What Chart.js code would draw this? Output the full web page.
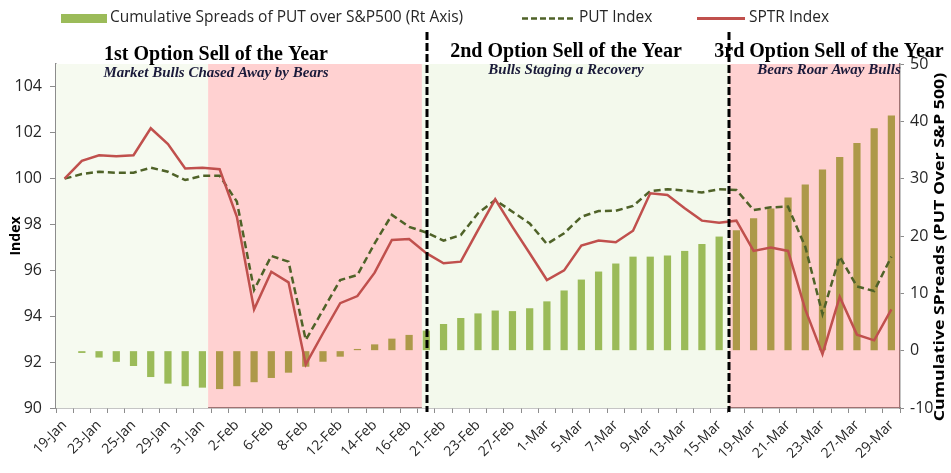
<!DOCTYPE html>
<html>
<head>
<meta charset="utf-8">
<script src="https://cdn.jsdelivr.net/npm/chart.js@4.4.1/dist/chart.umd.min.js"></script>
<style>
  html, body { margin: 0; padding: 0; background: #fff; }
  #contenedor { width: 951px; height: 473px; }
</style>
</head>
<body>
<div id="contenedor"><canvas id="grafica"></canvas></div>
<script>
// Datos
const fechas = ['19-Jan','22-Jan','23-Jan','24-Jan','25-Jan','26-Jan','29-Jan','30-Jan','31-Jan','1-Feb',
  '2-Feb','5-Feb','6-Feb','7-Feb','8-Feb','9-Feb','12-Feb','13-Feb','14-Feb','15-Feb',
  '16-Feb','20-Feb','21-Feb','22-Feb','23-Feb','26-Feb','27-Feb','28-Feb','1-Mar','2-Mar',
  '5-Mar','6-Mar','7-Mar','8-Mar','9-Mar','12-Mar','13-Mar','14-Mar','15-Mar','16-Mar',
  '19-Mar','20-Mar','21-Mar','22-Mar','23-Mar','26-Mar','27-Mar','28-Mar','29-Mar'];

const valoresSPTR = [100.0, 100.78, 101.02, 100.98, 101.02, 102.2, 101.51, 100.44, 100.48, 100.41,
  98.34, 94.3, 95.94, 95.48, 91.9, 93.26, 94.57, 94.88, 95.9, 97.33,
  97.37, 96.75, 96.31, 96.38, 97.76, 99.1, 97.9, 96.75, 95.58, 96.0,
  97.08, 97.3, 97.23, 97.73, 99.36, 99.29, 98.71, 98.17, 98.08, 98.17,
  96.85, 97.0, 96.85, 94.3, 92.35, 94.85, 93.2, 92.95, 94.3];

const valoresPUT = [100.0, 100.2, 100.3, 100.26, 100.26, 100.48, 100.3, 99.94, 100.13, 100.13,
  99.0, 95.15, 96.63, 96.38, 92.97, 94.27, 95.58, 95.8, 97.18, 98.42,
  97.9, 97.65, 97.3, 97.54, 98.49, 99.07, 98.56, 98.05, 97.15, 97.62,
  98.34, 98.59, 98.6, 98.81, 99.46, 99.54, 99.48, 99.4, 99.54, 99.51,
  98.63, 98.75, 98.78, 97.03, 94.1, 96.6, 95.3, 95.1, 96.6];

const spreadsAcumulados = [0, -0.4, -1.2, -1.95, -2.67, -4.6, -5.75, -6.2, -6.45, -6.7,
  -6.2, -5.5, -4.76, -3.84, -2.8, -1.93, -1.05, 0.3, 1.1, 2.1,
  2.75, 3.5, 4.65, 5.7, 6.5, 7.0, 6.9, 7.4, 8.6, 10.5,
  12.4, 13.8, 15.2, 16.4, 16.4, 16.6, 17.4, 18.6, 19.9, 21.0,
  23.1, 24.8, 26.7, 29.0, 31.6, 33.8, 36.2, 38.8, 41.0];

const ticksIndice = [90, 92, 94, 96, 98, 100, 102, 104];
const ticksSpread = [-10, 0, 10, 20, 30, 40, 50];

// Zonas sombreadas y divisiones (en unidades de categoría)
const zonas = [
  { desde: -0.5, hasta: 8.33, color: '#F6FAF0', encima: false },
  { desde: 8.33, hasta: 20.74, color: 'rgba(255,0,0,0.18)', encima: true },
  { desde: 20.74, hasta: 38.58, color: '#F3F9EC', encima: false },
  { desde: 38.58, hasta: 48.5, color: 'rgba(255,0,0,0.18)', encima: true }
];
const divisiones = [21.04, 38.58];

const titulos = [
  { texto: '1st Option Sell of the Year', sub: 'Market Bulls Chased Away by Bears', x: 216, y: 60, ySub: 77 },
  { texto: '2nd Option Sell of the Year', sub: 'Bulls Staging a Recovery', x: 566, y: 57, ySub: 74 },
  { texto: '3rd Option Sell of the Year', sub: 'Bears Roar Away Bulls', x: 829, y: 57, ySub: 74 }
];

const COLOR_BARRA = '#9BBB59';
const COLOR_PUT = '#4F6228';
const COLOR_SPTR = '#C0504D';
const COLOR_TEXTO = '#262626';
const COLOR_EJE = '#8c8c8c';

function pintarZonas(chart, encima) {
  const { ctx, chartArea: a, scales: { x } } = chart;
  ctx.save();
  zonas.filter(z => z.encima === encima).forEach(z => {
    const x1 = x.getPixelForValue(z.desde), x2 = x.getPixelForValue(z.hasta);
    ctx.fillStyle = z.color;
    ctx.fillRect(x1, a.top, x2 - x1, a.bottom - a.top);
  });
  ctx.restore();
}

const pluginDecoracion = {
  id: 'decoracion',
  beforeDatasetsDraw(chart) { pintarZonas(chart, false); },
  afterDatasetDraw(chart, args) {
    // el rosa va encima de las barras (por eso se ven color oliva)
    if (args.meta.type === 'bar') pintarZonas(chart, true);
  },
  afterDatasetsDraw(chart) {
    const { ctx, chartArea: a, scales: { x } } = chart;
    ctx.save();
    ctx.strokeStyle = '#000';
    ctx.lineWidth = 3;
    ctx.setLineDash([8, 3]);
    divisiones.forEach(d => {
      const px = Math.round(x.getPixelForValue(d));
      ctx.beginPath();
      ctx.moveTo(px, 32);
      ctx.lineTo(px, a.bottom + 4);
      ctx.stroke();
    });
    ctx.restore();
  },
  afterDraw(chart) {
    const { ctx, chartArea: a } = chart;
    ctx.save();

    // Leyenda
    ctx.fillStyle = COLOR_BARRA;
    ctx.fillRect(61, 14, 46, 9);
    ctx.lineWidth = 2.5;
    ctx.strokeStyle = COLOR_PUT;
    ctx.setLineDash([6, 3]);
    ctx.beginPath(); ctx.moveTo(522, 18.5); ctx.lineTo(574, 18.5); ctx.stroke();
    ctx.setLineDash([]);
    ctx.lineWidth = 3;
    ctx.strokeStyle = COLOR_SPTR;
    ctx.beginPath(); ctx.moveTo(697, 18.5); ctx.lineTo(745, 18.5); ctx.stroke();

    ctx.fillStyle = COLOR_TEXTO;
    ctx.font = '15.5px "Open Sans"';
    ctx.textBaseline = 'middle';
    ctx.textAlign = 'left';
    ctx.fillText('Cumulative Spreads of PUT over S&P500 (Rt Axis)', 110, 18);
    ctx.fillText('PUT Index', 579, 18);
    ctx.fillText('SPTR Index', 749, 18);

    // Títulos de cada etapa
    ctx.textAlign = 'center';
    ctx.textBaseline = 'alphabetic';
    titulos.forEach(t => {
      ctx.fillStyle = '#000';
      ctx.font = 'bold 20px "Liberation Serif"';
      ctx.fillText(t.texto, t.x, t.y);
      ctx.fillStyle = '#1a1a3a';
      ctx.font = 'italic bold 15px "Liberation Serif"';
      ctx.fillText(t.sub, t.x, t.ySub);
    });

    // Títulos de ejes (ambos leen de abajo hacia arriba)
    ctx.fillStyle = '#000';
    ctx.textBaseline = 'middle';
    ctx.font = 'bold 14px "Open Sans"';
    ctx.translate(16, (a.top + a.bottom) / 2);
    ctx.rotate(-Math.PI / 2);
    ctx.fillText('Index', 0, 0);
    ctx.setTransform(1, 0, 0, 1, 0, 0);
    // el original usa una letra más angosta y alta: se estira a lo largo
    ctx.font = 'bold 14.5px "Open Sans"';
    ctx.translate(940, 247);
    ctx.rotate(-Math.PI / 2);
    ctx.scale(1.22, 1);
    ctx.fillText('Cumulative SPreads (PUT Over S&P 500)', 0, 0);
    ctx.restore();
  }
};

const ctx = document.getElementById('grafica').getContext('2d');
new Chart(ctx, {
  data: {
    labels: fechas,
    datasets: [
      { type: 'line', label: 'SPTR Index', data: valoresSPTR, yAxisID: 'y', borderColor: COLOR_SPTR, borderWidth: 2.5, pointRadius: 0, tension: 0, order: 1 },
      { type: 'line', label: 'PUT Index', data: valoresPUT, yAxisID: 'y', borderColor: COLOR_PUT, borderWidth: 2.5, borderDash: [7, 4], pointRadius: 0, tension: 0, order: 2 },
      { type: 'bar', label: 'Cumulative Spreads of PUT over S&P500 (Rt Axis)', data: spreadsAcumulados, yAxisID: 'y2', backgroundColor: COLOR_BARRA, barPercentage: 0.42, categoryPercentage: 1, order: 3 }
    ]
  },
  options: {
    responsive: true,
    maintainAspectRatio: false,
    animation: false,
    layout: { padding: { top: 64, left: 0, right: 0, bottom: 0 } },
    plugins: { legend: { display: false }, tooltip: { enabled: false } },
    scales: {
      x: {
        offset: true,
        grid: { offset: true, drawOnChartArea: false, tickLength: 5, color: COLOR_EJE },
        border: { color: COLOR_EJE, width: 1.5 },
        ticks: {
          autoSkip: false, minRotation: 45, maxRotation: 45, padding: 4,
          color: COLOR_TEXTO, font: { family: 'Open Sans', size: 14 },
          callback: (v, i) => (i % 2 === 0 ? fechas[i] : '')
        },
        afterFit: s => { s.height = 65; }
      },
      y: {
        position: 'left', min: 90, max: 105,
        grid: { drawOnChartArea: false, tickLength: 6, color: COLOR_EJE },
        border: { color: COLOR_EJE, width: 1.5 },
        ticks: { color: COLOR_TEXTO, padding: 8, font: { family: 'Open Sans', size: 16 } },
        afterBuildTicks: s => { s.ticks = ticksIndice.map(v => ({ value: v })); },
        afterFit: s => { s.width = 56; }
      },
      y2: {
        position: 'right', min: -10, max: 50,
        grid: { drawOnChartArea: false, tickLength: 4, color: COLOR_EJE },
        border: { color: COLOR_EJE, width: 1.5 },
        ticks: { color: COLOR_TEXTO, padding: 6, font: { family: 'Open Sans', size: 16 } },
        afterBuildTicks: s => { s.ticks = ticksSpread.map(v => ({ value: v })); },
        afterFit: s => { s.width = 51; }
      }
    }
  },
  plugins: [pluginDecoracion]
});
</script>
</body>
</html>
